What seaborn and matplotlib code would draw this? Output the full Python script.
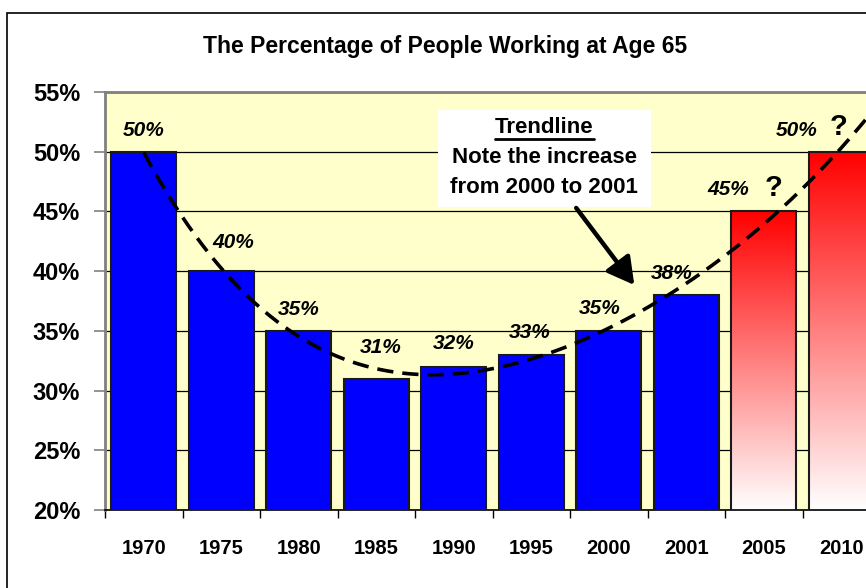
import numpy as np
import pandas as pd
import matplotlib
matplotlib.use("Agg")
import matplotlib.pyplot as plt
import seaborn as sns
from matplotlib.colors import LinearSegmentedColormap
from matplotlib.patches import Rectangle
from matplotlib.lines import Line2D

# ---- data ----
years = ["1970", "1975", "1980", "1985", "1990", "1995", "2000", "2001", "2005", "2010"]
pct = [50, 40, 35, 31, 32, 33, 35, 38, 45, 50]
projected = [False, False, False, False, False, False, False, False, True, True]
yticks = [20, 25, 30, 35, 40, 45, 50, 55]
title = "The Percentage of People Working at Age 65"
note_lines = ["Trendline", "Note the increase", "from 2000 to 2001"]

sns.set_style("white")
plt.rcParams['font.family'] = ['Liberation Sans', 'DejaVu Sans']
plt.rcParams['text.color'] = 'black'
plt.rcParams['axes.labelcolor'] = 'black'
plt.rcParams['xtick.color'] = 'black'
plt.rcParams['ytick.color'] = 'black'

W, H = 866, 588
fig = plt.figure(figsize=(W / 100, H / 100), dpi=100)
ax = fig.add_axes([105 / W, 78 / H, 775 / W, 418 / H])
ax.set_facecolor('#FFFFCC')

df = pd.DataFrame({'year': years, 'pct': pct})
colors = ['#FF0000' if p else '#0000FF' for p in projected]
sns.barplot(data=df, x='year', y='pct', hue='year', palette=colors, legend=False,
            width=0.84, saturation=1, edgecolor='#1a1a1a', linewidth=1.5, ax=ax, zorder=3)

# gradient fill for projected bars
cmap = LinearSegmentedColormap.from_list('wr', ['#FFFFFF', '#FF0000'])
grad = np.linspace(0, 1, 256).reshape(-1, 1)
bars = sorted(ax.patches, key=lambda p: p.get_x())
for bar, proj in zip(bars, projected):
    if proj:
        x0, w, h = bar.get_x(), bar.get_width(), bar.get_height()
        im = ax.imshow(grad, cmap=cmap, origin='lower', extent=[x0, x0 + w, 20, h],
                       aspect='auto', zorder=2.5, interpolation='bicubic')
        im.set_clip_path(bar)
        bar.set_facecolor('none')

# trendline (polynomial fit of the series)
coef = np.polyfit(np.arange(len(pct)), pct, 4)
xs = np.linspace(0, 9.5, 300)
ax.plot(xs, np.polyval(coef, xs), color='black', lw=2.6, ls=(0, (4.5, 2.5)), zorder=4)

ax.set_xlim(-0.5, 9.5)
ax.set_ylim(20, 55)
ax.set_aspect('auto')
ax.set_xlabel('')
ax.set_ylabel('')

ax.set_axisbelow(True)
ax.yaxis.grid(True, color='black', lw=0.9)
ax.xaxis.grid(False)

ax.set_yticks(yticks)
ax.set_yticklabels([f"{v}%" for v in yticks], fontsize=17, fontweight='bold', color='black')
ax.tick_params(axis='y', which='major', left=True, length=8, width=1.2, color='#808080',
               labelcolor='black', direction='out', pad=10)
ax.set_xticks(range(len(years)))
ax.set_xticklabels(years, fontsize=14.5, fontweight='bold', color='black')
ax.set_xticks(np.arange(-0.5, len(years), 1), minor=True)
ax.tick_params(axis='x', which='major', bottom=False, length=0, pad=21, labelcolor='black')
ax.tick_params(axis='x', which='minor', bottom=True, length=6, width=1, color='black',
               direction='out')

for s in ['left', 'top']:
    ax.spines[s].set_color('#808080')
    ax.spines[s].set_linewidth(2)
ax.spines['bottom'].set_color('black')
ax.spines['bottom'].set_linewidth(1.2)
ax.spines['right'].set_visible(False)

# data labels
lab_dx = [0, 0.15, 0, 0.06, 0, -0.02, -0.12, -0.19, -0.46, -0.58]
lab_dy = [1.8, 2.4, 1.8, 2.6, 1.9, 1.9, 1.9, 1.8, 1.8, 1.8]
for i, v in enumerate(pct):
    ax.text(i + lab_dx[i], v + lab_dy[i], f"{v}%", ha='center', va='center',
            fontsize=15, fontweight='bold', fontstyle='italic', color='black', zorder=6)
q_dx = {8: 0.12, 9: -0.04}
q_dy = {8: 2.0, 9: 2.1}
for i, proj in enumerate(projected):
    if proj:
        ax.text(i + q_dx[i], pct[i] + q_dy[i], "?", ha='center', va='center',
                fontsize=21, fontweight='bold', color='black', zorder=6)

# note box
ax.add_patch(Rectangle((3.80, 45.37), 2.75, 8.12, facecolor='white', edgecolor='none',
                       zorder=5))
note_y = [52.0, 49.5, 47.0]
note_txt = []
for t, y in zip(note_lines, note_y):
    note_txt.append(ax.text(5.17, y, t, ha='center', va='center', fontsize=16,
                            fontweight='bold', color='black', zorder=6))
ax.annotate('', xy=(6.33, 38.84), xytext=(5.58, 45.29),
            arrowprops=dict(arrowstyle='-|>,head_length=0.9,head_width=0.5', lw=3.2,
                            color='black', shrinkA=0, shrinkB=0, mutation_scale=18),
            zorder=6)

# title
fig.text(445 / W, 1 - 46 / H, title, ha='center', va='center', fontsize=16.5,
         fontweight='bold', color='black')

# figure border
fig.add_artist(Rectangle((7 / W, -0.5), 2, (1 - 12.5 / H) + 0.5, transform=fig.transFigure,
                         fill=False, lw=1.2, edgecolor='black'))

# underline "Trendline"
fig.canvas.draw()
r = fig.canvas.get_renderer()
bb = note_txt[0].get_window_extent(renderer=r)
inv = ax.transData.inverted()
(ux0, uy), (ux1, _) = inv.transform([(bb.x0, bb.y0 - 1), (bb.x1, bb.y0 - 1)])
ax.add_line(Line2D([ux0, ux1], [uy, uy], color='black', lw=2, zorder=6))

fig.savefig('out.png', dpi=100)
